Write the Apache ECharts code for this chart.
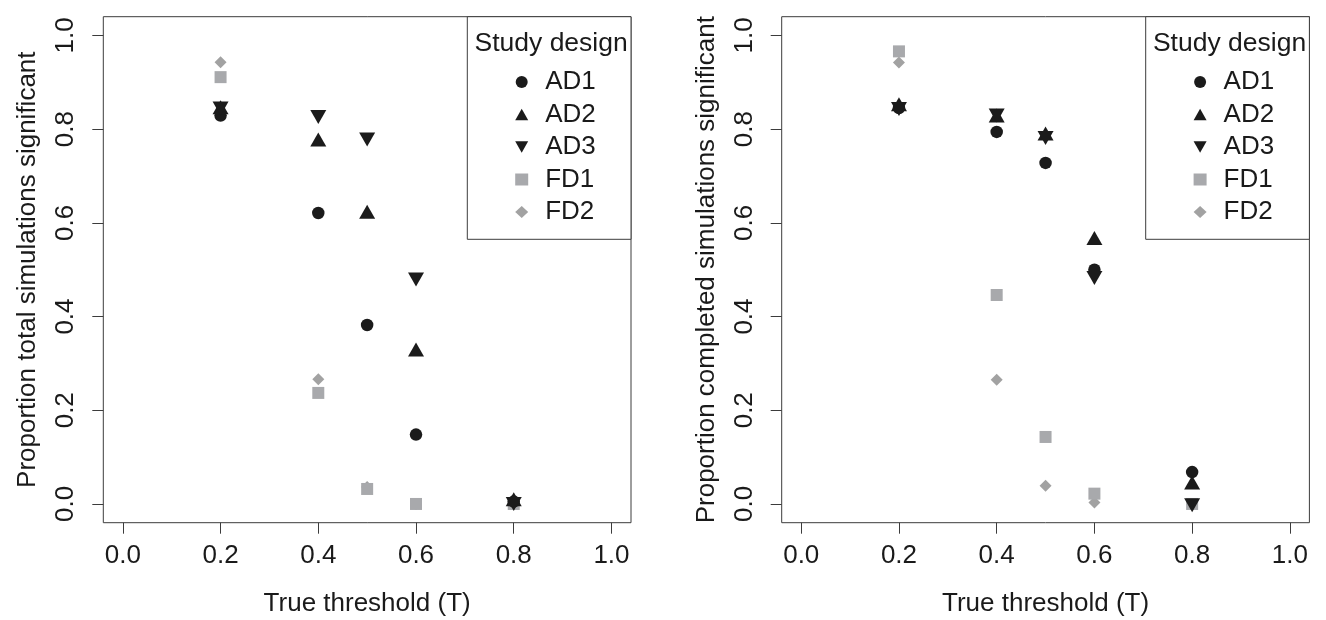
<!DOCTYPE html>
<html>
<head>
<meta charset="utf-8">
<script src="https://cdn.jsdelivr.net/npm/echarts@6/dist/echarts.min.js"></script>
<style>
html,body{margin:0;padding:0;background:#fff;}
#chart{width:1326px;height:620px;}
</style>
</head>
<body>
<div id="chart"></div>
<script>
// ---- data ----
const xValues = [0.2, 0.4, 0.5, 0.6, 0.8];
const tickValues = [0, 0.2, 0.4, 0.6, 0.8, 1.0];
const designNames = ['AD1', 'AD2', 'AD3', 'FD1', 'FD2'];
const totalAD1 = [0.829, 0.621, 0.382, 0.148, 0.005];
const totalAD2 = [0.842, 0.773, 0.619, 0.325, 0.005];
const totalAD3 = [0.849, 0.831, 0.783, 0.484, 0.005];
const totalFD1 = [0.911, 0.237, 0.032, 0.000, 0.000];
const totalFD2 = [0.943, 0.266, 0.036, 0.000, 0.000];
const completedAD1 = [0.845, 0.794, 0.728, 0.500, 0.068];
const completedAD2 = [0.848, 0.824, 0.786, 0.563, 0.041];
const completedAD3 = [0.848, 0.834, 0.786, 0.487, 0.002];
const completedFD1 = [0.966, 0.446, 0.143, 0.022, 0.000];
const completedFD2 = [0.942, 0.265, 0.039, 0.003, 0.000];
const xTitle = 'True threshold (T)';
const yTitles = ['Proportion total simulations significant', 'Proportion completed simulations significant'];
const legendTitle = 'Study design';

// ---- styles ----
const FONT = 'Liberation Sans, Arial, Helvetica, sans-serif';
const TXT = '#1a1a1a';
const LINE = '#3c3c3c';
const BLACK = '#1b1b1b';
const GRAY_SQ = '#a8a9ac';
const GRAY_DM = '#a2a2a2';
const DOWN_TRI = 'path://M0,0L2,0L1,1.732Z';
const UP_TRI = 'path://M1,0L2,1.732L0,1.732Z';

const styleFor = {
  AD1: {symbol: 'circle', symbolSize: 12.5, color: BLACK, offset: [0, 0]},
  AD2: {symbol: UP_TRI, symbolSize: [16, 14], color: BLACK, offset: [0, -2.3]},
  AD3: {symbol: DOWN_TRI, symbolSize: [16, 14], color: BLACK, offset: [0, 2.3]},
  FD1: {symbol: 'rect', symbolSize: 12, color: GRAY_SQ, offset: [0, 0]},
  FD2: {symbol: 'diamond', symbolSize: [12, 12], color: GRAY_DM, offset: [0, 0]}
};

const panels = [
  {AD1: totalAD1, AD2: totalAD2, AD3: totalAD3, FD1: totalFD1, FD2: totalFD2},
  {AD1: completedAD1, AD2: completedAD2, AD3: completedAD3, FD1: completedFD1, FD2: completedFD2}
];

const gridLefts = [103.3, 781.7];
const gridW = 527.7;
const gridTop = 16.7;
const gridH = 506;

const grids = [], xAxes = [], yAxes = [], series = [], legends = [], titles = [], graphics = [];
const fmt = v => Number(v).toFixed(1);

panels.forEach((p, i) => {
  grids.push({
    left: gridLefts[i], top: gridTop, width: gridW, height: gridH,
    show: true, borderColor: LINE, borderWidth: 1, backgroundColor: 'transparent',
    containLabel: false, outerBoundsMode: 'none'
  });
  xAxes.push({
    type: 'value', gridIndex: i, min: -0.04, max: 1.04, position: 'bottom',
    axisLine: {show: false, onZero: false},
    splitLine: {show: false},
    axisTick: {show: true, inside: false, length: 11, lineStyle: {color: LINE, width: 1}, customValues: tickValues},
    axisLabel: {show: true, margin: 20, fontSize: 26, fontFamily: FONT, color: TXT, formatter: fmt, customValues: tickValues},
    name: xTitle, nameLocation: 'middle', nameGap: 68,
    nameTextStyle: {fontSize: 26, fontFamily: FONT, color: TXT}
  });
  yAxes.push({
    type: 'value', gridIndex: i, min: -0.04, max: 1.04, position: 'left',
    axisLine: {show: false, onZero: false},
    splitLine: {show: false},
    axisTick: {show: true, inside: false, length: 11, lineStyle: {color: LINE, width: 1}, customValues: tickValues},
    axisLabel: {show: true, margin: 24, rotate: 90, fontSize: 26, fontFamily: FONT, color: TXT, formatter: fmt, customValues: tickValues},
    name: yTitles[i], nameLocation: 'middle', nameGap: 62,
    nameTextStyle: {fontSize: 26, fontFamily: FONT, color: TXT}
  });
  // draw order: gray first, black on top
  ['FD2', 'FD1', 'AD1', 'AD2', 'AD3'].forEach(name => {
    const st = styleFor[name];
    series.push({
      type: 'scatter', name: name, xAxisIndex: i, yAxisIndex: i,
      symbol: st.symbol, symbolSize: st.symbolSize, symbolOffset: st.offset,
      itemStyle: {color: st.color, opacity: 1},
      emphasis: {disabled: true},
      silent: true,
      data: xValues.map((x, k) => [x, p[name][k]])
    });
  });
  const off = gridLefts[i] - gridLefts[0];
  legends.push({
    data: designNames, orient: 'vertical',
    left: 510.2 + off, top: 64, z: 20,
    itemWidth: 13, itemHeight: 12, itemGap: 6.5,
    symbolKeepAspect: true,
    selectedMode: false,
    textStyle: {fontSize: 26, fontFamily: FONT, color: TXT, lineHeight: 26, padding: [0, 0, 0, 12]}
  });
  titles.push({
    text: legendTitle, left: 469.5 + off, top: 25, z: 20,
    textStyle: {fontSize: 26.5, fontWeight: 'normal', fontFamily: FONT, color: TXT, lineHeight: 27}
  });
  graphics.push({
    type: 'rect', z: 3,
    shape: {x: 467.3 + off, y: gridTop, width: 631 - 467.3, height: 239.3 - gridTop},
    style: {fill: '#fff', stroke: LINE, lineWidth: 1}
  });
});

const chart = echarts.init(document.getElementById('chart'), null, {renderer: 'canvas'});
chart.setOption({
  animation: false,
  backgroundColor: '#fff',
  textStyle: {fontFamily: FONT},
  grid: grids, xAxis: xAxes, yAxis: yAxes,
  series: series, legend: legends, title: titles,
  graphic: {elements: graphics}
});
</script>
</body>
</html>
